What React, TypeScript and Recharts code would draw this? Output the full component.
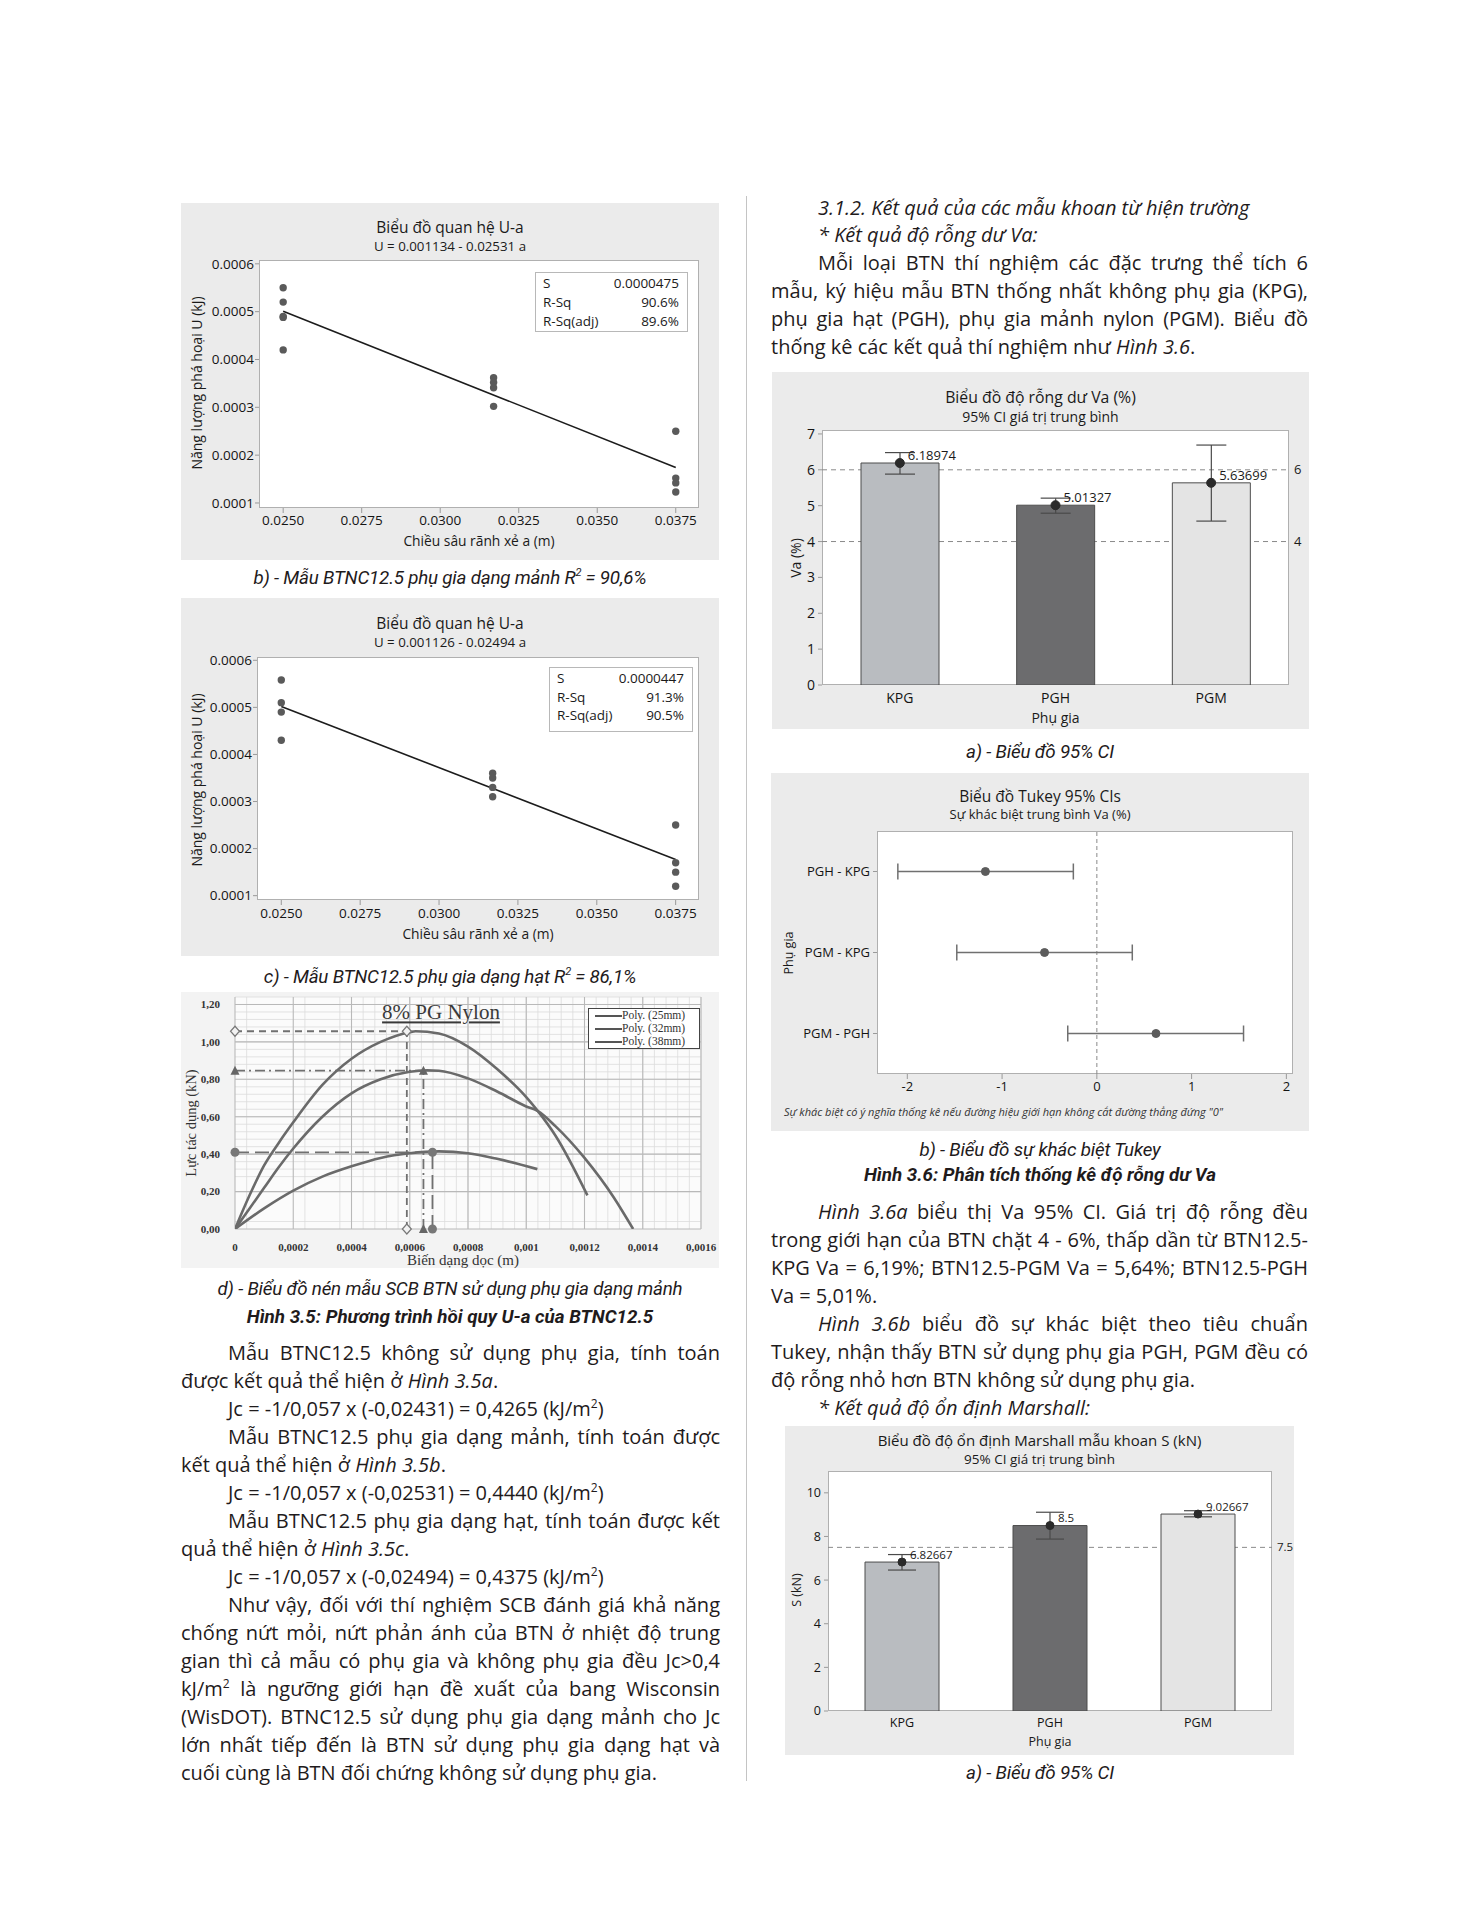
import React from 'react';
import {
  Bar,
  CartesianGrid,
  Cell,
  ComposedChart,
  ErrorBar,
  LabelList,
  Line,
  ReferenceDot,
  ReferenceLine,
  Scatter,
  ScatterChart,
  XAxis,
  YAxis,
} from 'recharts';

const BODY = '"Open Sans", sans-serif';
const CAP = 'Roboto, sans-serif';
const CHART = '"Open Sans", sans-serif';
const SERIF = '"Liberation Serif", "Times New Roman", serif';
const PANEL_BG = '#ebebeb';
const INK = '#1f1b1c';

// --- Hình 3.5b / 3.5c : U-a regression ---
const A_TICKS = [0.025, 0.0275, 0.03, 0.0325, 0.035, 0.0375];
const U_TICKS = [0.0001, 0.0002, 0.0003, 0.0004, 0.0005, 0.0006];
const DEPTHS = [0.025, 0.0317, 0.0375];
const FIT_A = [0.025, 0.0375];

const B_U = [
  [0.00055, 0.00052, 0.00049, 0.000488, 0.00042],
  [0.000362, 0.000352, 0.000341, 0.000302],
  [0.00025, 0.000152, 0.000142, 0.000123],
];
const B_FIT_U = [0.000501, 0.000174];
const B_STATS = [['S', '0.0000475'], ['R-Sq', '90.6%'], ['R-Sq(adj)', '89.6%']];

const C_U = [
  [0.000558, 0.00051, 0.00049, 0.00043],
  [0.00036, 0.00035, 0.00033, 0.00031],
  [0.00025, 0.00017, 0.00015, 0.00012],
];
const C_FIT_U = [0.000502, 0.000177];
const C_STATS = [['S', '0.0000447'], ['R-Sq', '91.3%'], ['R-Sq(adj)', '90.5%']];

// --- Hình 3.5d : SCB compression curves ---
const D_X_TICKS = [0, 0.0002, 0.0004, 0.0006, 0.0008, 0.001, 0.0012, 0.0014, 0.0016];
const D_X_LABELS = ['0', '0,0002', '0,0004', '0,0006', '0,0008', '0,001', '0,0012', '0,0014', '0,0016'];
const D_Y_TICKS = [0, 0.2, 0.4, 0.6, 0.8, 1.0, 1.2];
const D_Y_LABELS = ['0,00', '0,20', '0,40', '0,60', '0,80', '1,00', '1,20'];
const D_MINOR_X = Array.from({ length: 41 }, (_, i) => i * 0.00004);
const D_MINOR_Y = Array.from({ length: 32 }, (_, i) => i * 0.04);

const D25_X = [0, 0.00005, 0.0001, 0.00015, 0.0002, 0.0003, 0.0004, 0.0005, 0.0006, 0.00062, 0.0007, 0.0008, 0.0009, 0.001, 0.00104, 0.0011, 0.00121];
const D25_Y = [0, 0.18, 0.34, 0.46, 0.57, 0.77, 0.91, 1.0, 1.052, 1.057, 1.045, 0.975, 0.855, 0.705, 0.63, 0.5, 0.18];
const D32_X = [0, 0.00005, 0.0001, 0.00015, 0.0002, 0.0003, 0.0004, 0.0005, 0.0006, 0.00066, 0.0007, 0.0008, 0.0009, 0.001, 0.00104, 0.0011, 0.0012, 0.0013, 0.001367];
const D32_Y = [0, 0.11, 0.22, 0.33, 0.43, 0.6, 0.725, 0.8, 0.84, 0.848, 0.846, 0.805, 0.735, 0.655, 0.63, 0.55, 0.38, 0.17, 0];
const D38_X = [0, 0.0001, 0.0002, 0.0003, 0.0004, 0.0005, 0.0006, 0.0007, 0.0008, 0.0009, 0.001038];
const D38_Y = [0, 0.11, 0.205, 0.28, 0.335, 0.38, 0.405, 0.415, 0.405, 0.375, 0.32];
const D_SERIES = ['Poly. (25mm)', 'Poly. (32mm)', 'Poly. (38mm)'];
const D_PEAK_X = [0.00059, 0.000647, 0.000678];
const D_PEAK_Y = [1.057, 0.846, 0.41];
const D_DASH = ['7 5', '10 4 2 4', '14 6'];

// --- Hình 3.6a : Va 95% CI ---
const GROUPS = ['KPG', 'PGH', 'PGM'];
const VA_MEAN = [6.18974, 5.01327, 5.63699];
const VA_LOW = [5.88, 4.79, 4.57];
const VA_HIGH = [6.48, 5.21, 6.69];
const VA_TICKS = [0, 1, 2, 3, 4, 5, 6, 7];
const VA_REFS = [6, 4];

// --- Hình 3.6b : Tukey ---
const TK_PAIRS = ['PGH - KPG', 'PGM - KPG', 'PGM - PGH'];
const TK_DIFF = [-1.176, -0.552, 0.624];
const TK_LOW = [-2.1, -1.478, -0.307];
const TK_HIGH = [-0.248, 0.374, 1.548];
const TK_TICKS = [-2, -1, 0, 1, 2];

// --- Marshall S ---
const S_MEAN = [6.82667, 8.5, 9.02667];
const S_LOW = [6.46, 7.88, 8.9];
const S_HIGH = [7.17, 9.11, 9.18];
const S_TICKS = [0, 2, 4, 6, 8, 10];
const S_REFS = [7.5];

const BAR_COLORS = ['#b9bcc0', '#6c6c6e', '#e4e4e4'];

function Txt({ x, y, children, size = 13, family = CHART, italic = false, bold = false, anchor = 'start', color = '#1a1a1a', underline = false, rotate = false, style = {} }: any) {
  let tf = anchor === 'middle' ? 'translate(-50%, -50%)' : anchor === 'end' ? 'translate(-100%, -50%)' : 'translateY(-50%)';
  if (rotate) tf = 'translate(-50%, -50%) rotate(-90deg)';
  return (
    <div
      style={{
        position: 'absolute',
        left: x,
        top: y,
        transform: tf,
        fontSize: size,
        fontFamily: family,
        fontStyle: italic ? 'italic' : 'normal',
        fontWeight: bold ? 700 : 400,
        whiteSpace: 'nowrap',
        lineHeight: 1.2,
        color,
        textDecoration: underline ? 'underline' : 'none',
        ...style,
      }}
    >
      {children}
    </div>
  );
}

const SUP = { fontSize: 12, lineHeight: 0 };

function Row({ x, w, y, indent = false, justify = false, italic = false, children }: any) {
  const ind = indent ? 47 : 0;
  return (
    <div
      style={{
        position: 'absolute',
        left: x + ind,
        top: y - 14,
        width: w - ind,
        height: 28,
        lineHeight: '28px',
        fontSize: 20,
        fontFamily: BODY,
        color: INK,
        fontStyle: italic ? 'italic' : 'normal',
        textAlign: justify ? 'justify' : 'left',
        textAlignLast: justify ? 'justify' : 'auto',
      }}
    >
      {children}
    </div>
  );
}

function Caption({ x, y, children, bold = false }: any) {
  return (
    <Txt x={x} y={y} anchor="middle" family={CAP} italic bold={bold} size={18.8} color={INK} style={{ letterSpacing: bold ? 0 : -0.2 }}>
      {children}
    </Txt>
  );
}

function Frame({ l, t, r, b }: any) {
  return (
    <div
      style={{
        position: 'absolute',
        left: l,
        top: t,
        width: r - l,
        height: b - t,
        background: '#fff',
        border: '1px solid #b0b0b0',
        boxSizing: 'border-box',
      }}
    />
  );
}

function RegressionPanel({ left, top, w, h, plot, yDomain, title, subtitle, titleY, groups, fitU, stats, box, rowsY, xTickY, xLabelY, yLabelY }: any) {
  const [l, t, r, b] = plot;
  const xAxisH = 30;
  const points = groups.flatMap((us: number[], gi: number) => us.map((u) => ({ a: DEPTHS[gi], u })));
  const fit = FIT_A.map((a, i) => ({ a, u: fitU[i] }));
  const tick = { fontSize: 13.5, fill: '#141414', fontFamily: CHART };
  return (
    <div style={{ position: 'absolute', left, top, width: w, height: h, background: PANEL_BG }}>
      <Frame l={l} t={t} r={r} b={b} />
      <div style={{ position: 'absolute', left: 0, top: 0 }}>
        <ScatterChart width={w} height={h} margin={{ top: t, right: w - r, bottom: h - b - xAxisH, left: 0 }}>
          <XAxis
            type="number"
            dataKey="a"
            domain={[0.02423, 0.03824]}
            ticks={A_TICKS}
            allowDataOverflow
            tickFormatter={(v: number) => v.toFixed(4)}
            height={xAxisH}
            axisLine={false}
            tickLine={{ stroke: '#9a9a9a' }}
            tickSize={5}
            tickMargin={xTickY - b - 10}
            tick={tick}
          />
          <YAxis
            type="number"
            dataKey="u"
            domain={yDomain}
            ticks={U_TICKS}
            allowDataOverflow
            tickFormatter={(v: number) => v.toFixed(4)}
            width={l}
            axisLine={false}
            tickLine={{ stroke: '#9a9a9a' }}
            tickSize={4}
            tickMargin={1}
            tick={tick}
          />
          <Scatter
            data={fit}
            line={{ stroke: '#1c1c1c', strokeWidth: 1.6 }}
            shape={() => <g />}
            isAnimationActive={false}
          />
          <Scatter
            data={points}
            shape={(p: any) => <circle cx={p.cx} cy={p.cy} r={3.7} fill="#5a5a5a" />}
            isAnimationActive={false}
          />
        </ScatterChart>
      </div>
      <Txt x={w / 2} y={titleY[0]} anchor="middle" size={15.5}>{title}</Txt>
      <Txt x={w / 2} y={titleY[1]} anchor="middle" size={13.3}>{subtitle}</Txt>
      <div
        style={{
          position: 'absolute',
          left: box[0],
          top: box[1],
          width: box[2] - box[0],
          height: box[3] - box[1],
          background: '#fff',
          border: '1px solid #b8b8b8',
          boxSizing: 'border-box',
        }}
      />
      {stats.map((s: string[], i: number) => (
        <React.Fragment key={s[0]}>
          <Txt x={box[0] + 8} y={rowsY[i]} size={13.5}>{s[0]}</Txt>
          <Txt x={box[2] - 9} y={rowsY[i]} anchor="end" size={13.5}>{s[1]}</Txt>
        </React.Fragment>
      ))}
      <Txt x={(l + r) / 2} y={xLabelY} anchor="middle" size={13.8}>Chiều sâu rãnh xẻ a (m)</Txt>
      <Txt x={16} y={yLabelY} rotate size={14}>Năng lượng phá hoại U (kJ)</Txt>
    </div>
  );
}

function CIBarPanel({ left, top, w, h, plot, title, subtitle, titleY, titleSize, subSize, mean, low, high, yDomain, yTicks, refs, barSize, capW, dotR, yLabel, yLabelPos, xLabelY, tickSize, xTickMargin }: any) {
  const [l, t, r, b] = plot;
  const xAxisH = 24;
  const data = GROUPS.map((g, i) => ({ g, mean: mean[i], err: [mean[i] - low[i], high[i] - mean[i]] }));
  const tick = { fontSize: tickSize, fill: '#141414', fontFamily: CHART };
  return (
    <div style={{ position: 'absolute', left, top, width: w, height: h, background: PANEL_BG }}>
      <Frame l={l} t={t} r={r} b={b} />
      <div style={{ position: 'absolute', left: 0, top: 0 }}>
        <ComposedChart width={w} height={h} data={data} margin={{ top: t, right: w - r, bottom: h - b - xAxisH, left: 0 }}>
          <XAxis dataKey="g" height={xAxisH} axisLine={false} tickLine={false} tickSize={6} tickMargin={xTickMargin} tick={tick} />
          <YAxis
            type="number"
            domain={yDomain}
            ticks={yTicks}
            allowDataOverflow
            width={l}
            axisLine={false}
            tickLine={{ stroke: '#9a9a9a' }}
            tickSize={4}
            tickMargin={3}
            tick={tick}
          />
          {refs.map((v: number) => (
            <ReferenceLine
              key={v}
              y={v}
              zIndex={250}
              stroke="#8a8a8a"
              strokeDasharray="5 4"
              label={{ value: String(v), position: 'right', fontSize: tickSize - 1, fill: '#1a1a1a', fontFamily: CHART }}
            />
          ))}
          <Bar dataKey="mean" barSize={barSize} stroke="#4d4d4d" strokeWidth={1} isAnimationActive={false}>
            {data.map((d, i) => (
              <Cell key={d.g} fill={BAR_COLORS[i]} />
            ))}
            <ErrorBar dataKey="err" direction="y" width={capW} stroke="#4a4a4a" strokeWidth={1.2} />
          </Bar>
          <Line
            dataKey="mean"
            stroke="none"
            dot={{ r: dotR, fill: '#2a2a2a', stroke: '#2a2a2a', strokeWidth: 1 }}
            activeDot={false}
            isAnimationActive={false}
          >
            <LabelList
              dataKey="mean"
              content={(p: any) => (
                <text x={Number(p.x) + 8} y={Number(p.y) - 8} fontSize={tickSize - 1} fill="#1a1a1a" fontFamily={CHART} dominantBaseline="central">
                  {String(p.value)}
                </text>
              )}
            />
          </Line>
        </ComposedChart>
      </div>
      <Txt x={w / 2} y={titleY[0]} anchor="middle" size={titleSize}>{title}</Txt>
      <Txt x={w / 2} y={titleY[1]} anchor="middle" size={subSize}>{subtitle}</Txt>
      <Txt x={(l + r) / 2} y={xLabelY} anchor="middle" size={tickSize}>Phụ gia</Txt>
      <Txt x={yLabelPos[0]} y={yLabelPos[1]} rotate size={tickSize}>{yLabel}</Txt>
    </div>
  );
}

function TukeyPanel() {
  const w = 538;
  const h = 358;
  const [l, t, r, b] = [106, 58, 522, 301];
  const xAxisH = 24;
  const data = TK_PAIRS.map((pair, i) => ({ pair, diff: TK_DIFF[i], err: [TK_DIFF[i] - TK_LOW[i], TK_HIGH[i] - TK_DIFF[i]] }));
  const tick = { fontSize: 13, fill: '#141414', fontFamily: CHART };
  const band = (b - t) / TK_PAIRS.length / 2;
  return (
    <div style={{ position: 'absolute', left: 771, top: 773, width: w, height: h, background: PANEL_BG }}>
      <Frame l={l} t={t} r={r} b={b} />
      <div style={{ position: 'absolute', left: 0, top: 0 }}>
        <ComposedChart layout="vertical" width={w} height={h} data={data} margin={{ top: t, right: w - r, bottom: h - b - xAxisH, left: 0 }}>
          <XAxis
            type="number"
            domain={[-2.32, 2.07]}
            ticks={TK_TICKS}
            allowDataOverflow
            height={xAxisH}
            axisLine={false}
            tickLine={{ stroke: '#9a9a9a' }}
            tickSize={5}
            tickMargin={3}
            tick={tick}
          />
          <YAxis
            type="category"
            dataKey="pair"
            width={l}
            padding={{ top: band, bottom: band }}
            axisLine={false}
            tickLine={{ stroke: '#9a9a9a' }}
            tickSize={4}
            tickMargin={3}
            tick={tick}
          />
          <ReferenceLine x={0} zIndex={250} stroke="#8a8a8a" strokeDasharray="4 3" />
          <Line
            dataKey="diff"
            stroke="none"
            dot={{ r: 4, fill: '#5c5c5c', stroke: '#5c5c5c' }}
            activeDot={false}
            isAnimationActive={false}
          >
            <ErrorBar dataKey="err" direction="x" width={8} stroke="#707070" strokeWidth={1.5} />
          </Line>
        </ComposedChart>
      </div>
      <Txt x={w / 2} y={23} anchor="middle" size={15.5}>Biểu đồ Tukey 95% CIs</Txt>
      <Txt x={w / 2} y={42} anchor="middle" size={13}>Sự khác biệt trung bình Va (%)</Txt>
      <Txt x={17} y={180} rotate size={12.5}>Phụ gia</Txt>
      <Txt x={13} y={339} italic size={11} color="#333">
        Sự khác biệt có ý nghĩa thống kê nếu đường hiệu giới hạn không cắt đường thẳng đứng "0"
      </Txt>
    </div>
  );
}

const diamond = (p: any) => (
  <path d={`M${p.cx},${p.cy - 5}L${p.cx + 4.5},${p.cy}L${p.cx},${p.cy + 5}L${p.cx - 4.5},${p.cy}Z`} fill="#f2f2f2" stroke="#777" strokeWidth={1.2} />
);
const triangle = (p: any) => (
  <path d={`M${p.cx},${p.cy - 5}L${p.cx + 4.5},${p.cy + 4}L${p.cx - 4.5},${p.cy + 4}Z`} fill="#666" />
);
const roundDot = (p: any) => <circle cx={p.cx} cy={p.cy} r={4.5} fill="#777" />;
const MARKERS = [diamond, triangle, roundDot];

function CurvePanel() {
  const w = 538;
  const h = 276;
  const [l, t, r, b] = [54, 5, 520, 237];
  const xAxisH = 25;
  const series = [
    D25_X.map((x, i) => ({ x, y: D25_Y[i] })),
    D32_X.map((x, i) => ({ x, y: D32_Y[i] })),
    D38_X.map((x, i) => ({ x, y: D38_Y[i] })),
  ];
  const tick = { fontSize: 11, fill: '#333', fontFamily: SERIF, fontWeight: 700 };
  return (
    <div style={{ position: 'absolute', left: 181, top: 992, width: w, height: h, background: '#f3f3f3' }}>
      <div style={{ position: 'absolute', left: l, top: t, width: r - l, height: b - t, background: '#fbfbfb' }} />
      <div style={{ position: 'absolute', left: 0, top: 0 }}>
        <ComposedChart width={w} height={h} margin={{ top: t, right: w - r, bottom: h - b - xAxisH, left: 0 }}>
          <XAxis
            type="number"
            dataKey="x"
            domain={[0, 0.0016]}
            ticks={D_X_TICKS}
            allowDataOverflow
            tickFormatter={(v: number, i: number) => D_X_LABELS[i]}
            height={xAxisH}
            axisLine={false}
            tickLine={false}
            tickMargin={8}
            tick={tick}
          />
          <YAxis
            type="number"
            dataKey="y"
            domain={[0, 1.24]}
            ticks={D_Y_TICKS}
            allowDataOverflow
            tickFormatter={(v: number, i: number) => D_Y_LABELS[i]}
            width={l}
            axisLine={false}
            tickLine={false}
            tickMargin={9}
            tick={tick}
          />
          <CartesianGrid verticalValues={D_MINOR_X} horizontalValues={D_MINOR_Y} stroke="#dcdcdc" strokeWidth={0.8} />
          <CartesianGrid verticalValues={D_X_TICKS} horizontalValues={D_Y_TICKS} stroke="#b9b9b9" strokeWidth={1.1} />
          {D_PEAK_X.map((px, i) => (
            <ReferenceLine
              key={`h${i}`}
              segment={[{ x: 0, y: D_PEAK_Y[i] }, { x: px, y: D_PEAK_Y[i] }]}
              stroke="#707070"
              strokeWidth={1.8}
              strokeDasharray={D_DASH[i]}
            />
          ))}
          {D_PEAK_X.map((px, i) => (
            <ReferenceLine
              key={`v${i}`}
              segment={[{ x: px, y: 0 }, { x: px, y: D_PEAK_Y[i] }]}
              stroke="#707070"
              strokeWidth={1.8}
              strokeDasharray={D_DASH[i]}
            />
          ))}
          {series.map((s, i) => (
            <Line key={D_SERIES[i]} data={s} dataKey="y" type="monotone" stroke="#6a6a6a" strokeWidth={2.6} dot={false} activeDot={false} isAnimationActive={false} />
          ))}
          {D_PEAK_X.map((px, i) => (
            <React.Fragment key={`m${i}`}>
              <ReferenceDot x={0} y={D_PEAK_Y[i]} r={4} shape={MARKERS[i]} />
              <ReferenceDot x={px} y={D_PEAK_Y[i]} r={4} shape={MARKERS[i]} />
              <ReferenceDot x={px} y={0} r={4} shape={MARKERS[i]} />
            </React.Fragment>
          ))}
        </ComposedChart>
      </div>
      <Txt x={260} y={21} anchor="middle" size={21} family={SERIF} underline color="#3a3a3a">8% PG Nylon</Txt>
      <div style={{ position: 'absolute', left: 407, top: 16, width: 112, height: 41, background: '#fff', border: '1.5px solid #444', boxSizing: 'border-box' }} />
      {D_SERIES.map((name, i) => (
        <React.Fragment key={name}>
          <div style={{ position: 'absolute', left: 414, top: 22.5 + i * 13, width: 27, height: 2, background: '#555' }} />
          <Txt x={441} y={23.5 + i * 13} size={11.5} family={SERIF} color="#333">{name}</Txt>
        </React.Fragment>
      ))}
      <Txt x={282} y={268} anchor="middle" size={15} family={SERIF} color="#333">Biến dạng dọc (m)</Txt>
      <Txt x={11} y={131} rotate size={14.5} family={SERIF} color="#333">Lực tác dụng (kN)</Txt>
    </div>
  );
}

const LX = 181;
const LW = 539;
const RX = 771;
const RW = 537;

export default function App() {
  const ly = (i: number) => 1353 + 28 * i;
  const ry = (i: number) => 1212 + 28 * i;
  return (
    <div style={{ position: 'absolute', left: 0, top: 0, width: 1484, height: 1920, background: '#fff', overflow: 'hidden' }}>
      <div style={{ position: 'absolute', left: 746, top: 196, width: 1, height: 1585, background: '#c4c4c4' }} />

      <RegressionPanel
        left={181}
        top={203}
        w={538}
        h={357}
        plot={[78, 57, 518, 305]}
        yDomain={[0.0000895, 0.000608]}
        title="Biểu đồ quan hệ U-a"
        subtitle="U = 0.001134 - 0.02531 a"
        titleY={[24, 44]}
        groups={B_U}
        fitU={B_FIT_U}
        stats={B_STATS}
        box={[354, 69, 507, 129]}
        rowsY={[80, 99, 118]}
        xTickY={317}
        xLabelY={338}
        yLabelY={180}
      />
      <Caption x={450} y={578}>
        b) - Mẫu BTNC12.5 phụ gia dạng mảnh R<sup style={{ fontSize: 11, lineHeight: 0 }}>2</sup> = 90,6%
      </Caption>

      <RegressionPanel
        left={181}
        top={598}
        w={538}
        h={358}
        plot={[76, 59, 518, 302]}
        yDomain={[0.0000908, 0.000607]}
        title="Biểu đồ quan hệ U-a"
        subtitle="U = 0.001126 - 0.02494 a"
        titleY={[25, 45]}
        groups={C_U}
        fitU={C_FIT_U}
        stats={C_STATS}
        box={[368, 69, 512, 134]}
        rowsY={[80, 99, 117]}
        xTickY={315}
        xLabelY={336}
        yLabelY={182}
      />
      <Caption x={450} y={977}>
        c) - Mẫu BTNC12.5 phụ gia dạng hạt R<sup style={{ fontSize: 11, lineHeight: 0 }}>2</sup> = 86,1%
      </Caption>

      <CurvePanel />
      <Caption x={450} y={1289}>d) - Biểu đồ nén mẫu SCB BTN sử dụng phụ gia dạng mảnh</Caption>
      <Caption x={450} y={1317} bold>Hình 3.5: Phương trình hồi quy U-a của BTNC12.5</Caption>

      <Row x={LX} w={LW} y={ly(0)} indent justify>Mẫu BTNC12.5 không sử dụng phụ gia, tính toán</Row>
      <Row x={LX} w={LW} y={ly(1)}>được kết quả thể hiện ở <i>Hình 3.5a</i>.</Row>
      <Row x={LX} w={LW} y={ly(2)} indent>Jc = -1/0,057 x (-0,02431) = 0,4265 (kJ/m<sup style={SUP}>2</sup>)</Row>
      <Row x={LX} w={LW} y={ly(3)} indent justify>Mẫu BTNC12.5 phụ gia dạng mảnh, tính toán được</Row>
      <Row x={LX} w={LW} y={ly(4)}>kết quả thể hiện ở <i>Hình 3.5b</i>.</Row>
      <Row x={LX} w={LW} y={ly(5)} indent>Jc = -1/0,057 x (-0,02531) = 0,4440 (kJ/m<sup style={SUP}>2</sup>)</Row>
      <Row x={LX} w={LW} y={ly(6)} indent justify>Mẫu BTNC12.5 phụ gia dạng hạt, tính toán được kết</Row>
      <Row x={LX} w={LW} y={ly(7)}>quả thể hiện ở <i>Hình 3.5c</i>.</Row>
      <Row x={LX} w={LW} y={ly(8)} indent>Jc = -1/0,057 x (-0,02494) = 0,4375 (kJ/m<sup style={SUP}>2</sup>)</Row>
      <Row x={LX} w={LW} y={ly(9)} indent justify>Như vậy, đối với thí nghiệm SCB đánh giá khả năng</Row>
      <Row x={LX} w={LW} y={ly(10)} justify>chống nứt mỏi, nứt phản ánh của BTN ở nhiệt độ trung</Row>
      <Row x={LX} w={LW} y={ly(11)} justify>gian thì cả mẫu có phụ gia và không phụ gia đều Jc&gt;0,4</Row>
      <Row x={LX} w={LW} y={ly(12)} justify>kJ/m<sup style={SUP}>2</sup> là ngưỡng giới hạn đề xuất của bang Wisconsin</Row>
      <Row x={LX} w={LW} y={ly(13)} justify>(WisDOT). BTNC12.5 sử dụng phụ gia dạng mảnh cho Jc</Row>
      <Row x={LX} w={LW} y={ly(14)} justify>lớn nhất tiếp đến là BTN sử dụng phụ gia dạng hạt và</Row>
      <Row x={LX} w={LW} y={ly(15)}>cuối cùng là BTN đối chứng không sử dụng phụ gia.</Row>

      <Row x={RX} w={RW} y={208} indent italic>3.1.2. Kết quả của các mẫu khoan từ hiện trường</Row>
      <Row x={RX} w={RW} y={235} indent italic>* Kết quả độ rỗng dư Va:</Row>
      <Row x={RX} w={RW} y={263} indent justify>Mỗi loại BTN thí nghiệm các đặc trưng thể tích 6</Row>
      <Row x={RX} w={RW} y={291} justify>mẫu, ký hiệu mẫu BTN thống nhất không phụ gia (KPG),</Row>
      <Row x={RX} w={RW} y={319} justify>phụ gia hạt (PGH), phụ gia mảnh nylon (PGM). Biểu đồ</Row>
      <Row x={RX} w={RW} y={347}>thống kê các kết quả thí nghiệm như <i>Hình 3.6</i>.</Row>

      <CIBarPanel
        left={772}
        top={372}
        w={537}
        h={357}
        plot={[50, 58, 517, 313]}
        title="Biểu đồ độ rỗng dư Va (%)"
        subtitle="95% CI giá trị trung bình"
        titleY={[25, 45]}
        titleSize={15.8}
        subSize={14}
        mean={VA_MEAN}
        low={VA_LOW}
        high={VA_HIGH}
        yDomain={[0, 7.11]}
        yTicks={VA_TICKS}
        refs={VA_REFS}
        barSize={78}
        capW={15}
        dotR={4.5}
        yLabel="Va (%)"
        yLabelPos={[24, 186]}
        xLabelY={346}
        tickSize={14}
        xTickMargin={2}
      />
      <Caption x={1040} y={752}>a) - Biểu đồ 95% CI</Caption>

      <TukeyPanel />
      <Caption x={1040} y={1150}>b) - Biểu đồ sự khác biệt Tukey</Caption>
      <Caption x={1040} y={1175} bold>Hình 3.6: Phân tích thống kê độ rỗng dư Va</Caption>

      <Row x={RX} w={RW} y={ry(0)} indent justify><i>Hình 3.6a</i> biểu thị Va 95% CI. Giá trị độ rỗng đều</Row>
      <Row x={RX} w={RW} y={ry(1)} justify>trong giới hạn của BTN chặt 4 - 6%, thấp dần từ BTN12.5-</Row>
      <Row x={RX} w={RW} y={ry(2)} justify>KPG Va = 6,19%; BTN12.5-PGM Va = 5,64%; BTN12.5-PGH</Row>
      <Row x={RX} w={RW} y={ry(3)}>Va = 5,01%.</Row>
      <Row x={RX} w={RW} y={ry(4)} indent justify><i>Hình 3.6b</i> biểu đồ sự khác biệt theo tiêu chuẩn</Row>
      <Row x={RX} w={RW} y={ry(5)} justify>Tukey, nhận thấy BTN sử dụng phụ gia PGH, PGM đều có</Row>
      <Row x={RX} w={RW} y={ry(6)}>độ rỗng nhỏ hơn BTN không sử dụng phụ gia.</Row>
      <Row x={RX} w={RW} y={ry(7)} indent italic>* Kết quả độ ổn định Marshall:</Row>

      <CIBarPanel
        left={785}
        top={1426}
        w={509}
        h={329}
        plot={[43, 45, 487, 285]}
        title="Biểu đồ độ ổn định Marshall mẫu khoan S (kN)"
        subtitle="95% CI giá trị trung bình"
        titleY={[14, 33]}
        titleSize={15}
        subSize={13.5}
        mean={S_MEAN}
        low={S_LOW}
        high={S_HIGH}
        yDomain={[0, 11]}
        yTicks={S_TICKS}
        refs={S_REFS}
        barSize={74}
        capW={14}
        dotR={4}
        yLabel="S (kN)"
        yLabelPos={[11, 164]}
        xLabelY={315}
        tickSize={12.5}
        xTickMargin={1}
      />
      <Caption x={1040} y={1773}>a) - Biểu đồ 95% CI</Caption>
    </div>
  );
}
